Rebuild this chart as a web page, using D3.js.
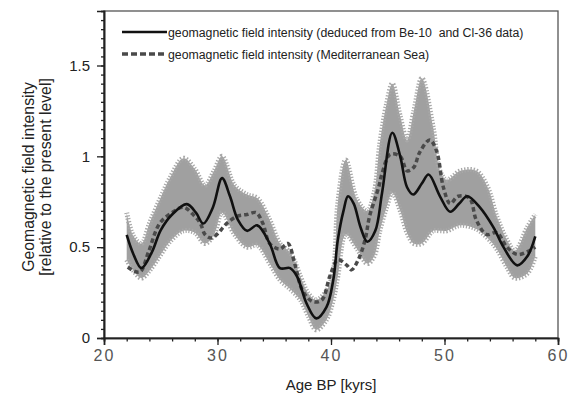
<!DOCTYPE html>
<html>
<head>
<meta charset="utf-8">
<script src="https://cdn.jsdelivr.net/npm/d3@7/dist/d3.min.js"></script>
<style>
  html, body { margin: 0; padding: 0; background: #fff; }
  svg { display: block; }
  text { font-family: "Liberation Sans", Arial, sans-serif; }
</style>
</head>
<body>
<svg id="chart" width="571" height="404"></svg>
<script>
// ---- data ----
const ageBe = [22, 22.6, 23.3, 24.2, 25, 26, 27.3, 28.1, 28.75, 29.6, 30.4, 31.1, 31.8, 32.6, 33.5, 34.6, 35.5, 36.4, 37.0, 37.85, 38.7, 39.6, 40.2, 40.6, 41.1, 41.5, 42.0, 42.6, 43.2, 43.9, 44.5, 45.4, 46.1, 46.7, 47.25, 48.0, 48.6, 49.6, 50.5, 51.3, 52.0, 53.1, 54.3, 55.2, 56.4, 57.3, 58.0];
const fieldBe = [0.567, 0.46, 0.385, 0.47, 0.594, 0.68, 0.737, 0.69, 0.63, 0.72, 0.88, 0.78, 0.65, 0.59, 0.62, 0.52, 0.385, 0.385, 0.34, 0.19, 0.108, 0.17, 0.32, 0.54, 0.70, 0.78, 0.74, 0.61, 0.53, 0.59, 0.80, 1.13, 1.0, 0.83, 0.79, 0.85, 0.90, 0.78, 0.695, 0.74, 0.78, 0.72, 0.61, 0.50, 0.40, 0.45, 0.56];

const ageMed = [22.1, 22.6, 23.2, 23.9, 24.9, 26.0, 27.0, 28.0, 28.5, 28.9, 29.5, 30.1, 30.8, 31.7, 32.6, 33.4, 34.0, 34.6, 35.5, 36.2, 36.8, 37.5, 38.4, 39.2, 39.9, 40.6, 41.4, 41.8, 42.4, 43.0, 43.4, 44.2, 44.5, 45.2, 46.1, 46.7, 47.3, 47.8, 48.7, 49.3, 49.9, 50.5, 51.2, 52.2, 52.8, 53.7, 54.6, 55.5, 56.4, 57.3, 58.0];
const fieldMed = [0.39, 0.37, 0.365, 0.47, 0.63, 0.69, 0.72, 0.67, 0.63, 0.57, 0.55, 0.58, 0.63, 0.67, 0.68, 0.69, 0.63, 0.52, 0.49, 0.52, 0.41, 0.26, 0.20, 0.21, 0.34, 0.43, 0.40, 0.375, 0.43, 0.54, 0.67, 0.83, 0.905, 1.01, 1.0, 0.92, 0.94, 1.02, 1.09, 1.03, 0.83, 0.74, 0.78, 0.77, 0.65, 0.57, 0.58, 0.50, 0.46, 0.475, 0.50];

const bandAge = [22, 22.6, 23.3, 24.0, 24.9, 25.8, 27.0, 28.0, 28.9, 29.7, 30.4, 31.5, 32.6, 33.5, 34.6, 35.5, 36.4, 37.3, 38.0, 38.7, 39.6, 40.2, 40.6, 41.3, 42.3, 43.2, 43.8, 44.3, 44.9, 45.4, 46.1, 46.7, 47.3, 48.0, 49.0, 49.6, 50.2, 51.4, 52.8, 53.8, 54.6, 55.5, 56.2, 57.3, 58.0];
const bandUpper = [0.69, 0.56, 0.52, 0.63, 0.76, 0.88, 0.99, 0.93, 0.84, 0.92, 1.0, 0.84, 0.79, 0.77, 0.65, 0.52, 0.47, 0.34, 0.245, 0.21, 0.26, 0.37, 0.74, 0.98, 0.76, 0.70, 0.80, 1.07, 1.29, 1.40, 1.22, 1.09, 1.25, 1.43, 1.16, 0.92, 0.87, 0.92, 0.92, 0.83, 0.67, 0.54, 0.48, 0.61, 0.68];
const bandLower = [0.43, 0.37, 0.33, 0.37, 0.45, 0.53, 0.59, 0.58, 0.52, 0.57, 0.69, 0.57, 0.50, 0.51, 0.41, 0.32, 0.27, 0.21, 0.12, 0.045, 0.10, 0.21, 0.34, 0.57, 0.49, 0.41, 0.45, 0.59, 0.72, 0.80, 0.70, 0.58, 0.52, 0.52, 0.59, 0.59, 0.59, 0.62, 0.60, 0.55, 0.49, 0.39, 0.33, 0.355, 0.45];

const xTicks = [20, 30, 40, 50, 60];
const xMinorTicks = d3.range(20, 60.001, 2);
const yTicks = [0, 0.5, 1, 1.5];
const yMinorTicks = d3.range(0, 1.8001, 0.05);
const legendLabels = [
  "geomagnetic field intensity (deduced from Be-10  and Cl-36 data)",
  "geomagnetic field intensity (Mediterranean Sea)"
];
const xTitle = "Age BP [kyrs]";
const yTitle = ["Geomagnetic field intensity", "[relative to the present level]"];

// ---- layout ----
const svg = d3.select("#chart");
const L = 104, R = 558, T = 11, B = 338;
const x = d3.scaleLinear().domain([20, 60]).range([L, R]);
const y = d3.scaleLinear().domain([0, 1.8]).range([B, T]);

// band
const band = bandAge.map((a, i) => ({a, u: bandUpper[i], l: bandLower[i]}));
const curve = d3.curveCatmullRom.alpha(0.5);
svg.append("path")
  .datum(band)
  .attr("d", d3.area().x(d => x(d.a)).y0(d => y(d.l)).y1(d => y(d.u)).curve(curve))
  .attr("fill", "#a0a0a0");
// serrated edges
["u", "l"].forEach(k => {
  svg.append("path")
    .datum(band)
    .attr("d", d3.line().x(d => x(d.a)).y(d => y(d[k])).curve(curve))
    .attr("fill", "none")
    .attr("stroke", "#a8a8a8")
    .attr("stroke-width", 5)
    .attr("stroke-dasharray", "1.3,1.7");
});

// dashed series
const medData = ageMed.map((a, i) => ({a, v: fieldMed[i]}));
svg.append("path")
  .datum(medData)
  .attr("d", d3.line().x(d => x(d.a)).y(d => y(d.v)).curve(curve))
  .attr("fill", "none")
  .attr("stroke", "#4a4a4a")
  .attr("stroke-width", 3.5)
  .attr("stroke-dasharray", "4.5,3");

// solid series
const beData = ageBe.map((a, i) => ({a, v: fieldBe[i]}));
svg.append("path")
  .datum(beData)
  .attr("d", d3.line().x(d => x(d.a)).y(d => y(d.v)).curve(curve))
  .attr("fill", "none")
  .attr("stroke", "#111")
  .attr("stroke-width", 2.6);

// frame
svg.append("rect")
  .attr("x", L).attr("y", T).attr("width", R - L).attr("height", B - T)
  .attr("fill", "none").attr("stroke", "#555").attr("stroke-width", 1.3);

// y axis
const yAxisMinor = svg.append("g").attr("transform", `translate(${L},0)`)
  .call(d3.axisLeft(y).tickValues(yMinorTicks).tickSize(3).tickFormat(""));
const yAxis = svg.append("g").attr("transform", `translate(${L},0)`)
  .call(d3.axisLeft(y).tickValues(yTicks).tickSize(7).tickPadding(7)
        .tickFormat(d => d === 0 ? "0" : (d % 1 === 0 ? d3.format("d")(d) : d3.format(".1f")(d))));
[yAxisMinor, yAxis].forEach(g => {
  g.select(".domain").attr("stroke", "#222").attr("stroke-width", 1.6);
  g.selectAll(".tick line").attr("stroke", "#222").attr("stroke-width", 1.3);
});
yAxis.selectAll(".tick text")
  .attr("font-family", "'Liberation Sans', Arial, sans-serif")
  .attr("font-size", 15).attr("fill", "#222");

// x axis
const xAxisMinor = svg.append("g").attr("transform", `translate(0,${B})`)
  .call(d3.axisBottom(x).tickValues(xMinorTicks).tickSize(3.5).tickFormat(""));
const xAxis = svg.append("g").attr("transform", `translate(0,${B})`)
  .call(d3.axisBottom(x).tickValues(xTicks).tickSize(7).tickPadding(5).tickFormat(d3.format("d")));
[xAxisMinor, xAxis].forEach(g => {
  g.select(".domain").attr("stroke", "#222").attr("stroke-width", 1.6);
  g.selectAll(".tick line").attr("stroke", "#222").attr("stroke-width", 1.3);
});
xAxis.selectAll(".tick text")
  .attr("font-family", "'Liberation Mono', 'Courier New', monospace")
  .attr("font-size", 16).attr("fill", "#555")
  .attr("letter-spacing", 2);

// axis titles
svg.append("text")
  .attr("x", (L + R) / 2).attr("y", 390)
  .attr("text-anchor", "middle").attr("font-size", 15).attr("fill", "#222")
  .text(xTitle);
yTitle.forEach((t, i) => {
  svg.append("text")
    .attr("transform", `translate(${34 + i * 17},177) rotate(-90)`)
    .attr("text-anchor", "middle").attr("font-size", 15.8).attr("fill", "#222")
    .text(t);
});

// legend
const legendStyles = [
  {stroke: "#111", width: 2.6, dash: null},
  {stroke: "#4a4a4a", width: 3.5, dash: "6,3"}
];
legendLabels.forEach((lab, i) => {
  const ly = 32 + i * 22;
  svg.append("line")
    .attr("x1", 122).attr("x2", 167).attr("y1", ly).attr("y2", ly)
    .attr("stroke", legendStyles[i].stroke)
    .attr("stroke-width", legendStyles[i].width)
    .attr("stroke-dasharray", legendStyles[i].dash);
  svg.append("text")
    .attr("x", 168).attr("y", ly + 4.5)
    .attr("font-size", 12.3).attr("fill", "#222")
    .style("white-space", "pre")
    .text(lab);
});
</script>
</body>
</html>
